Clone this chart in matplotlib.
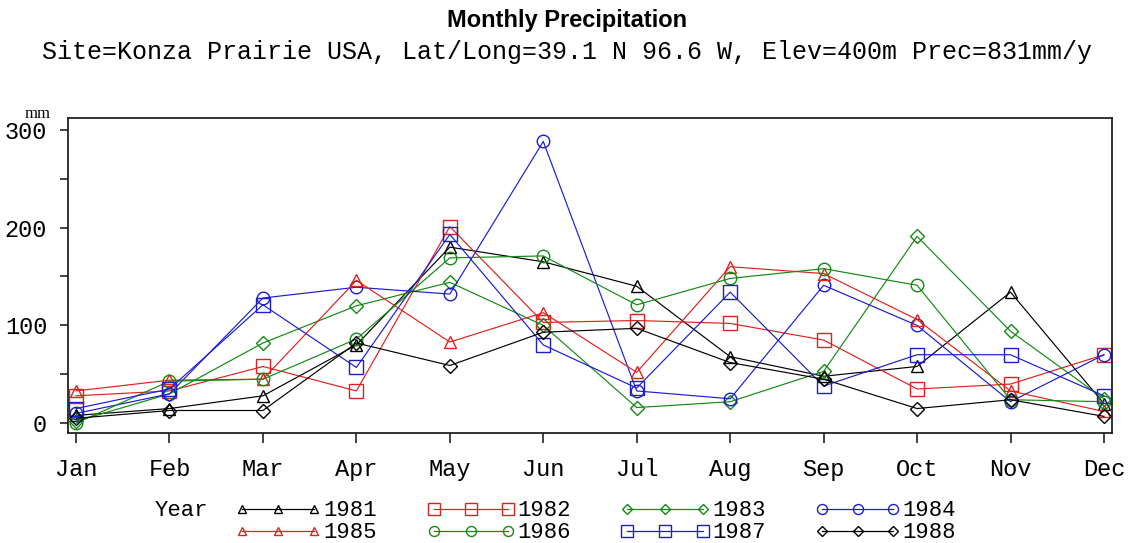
import matplotlib
matplotlib.use("Agg")
import matplotlib.pyplot as plt
from matplotlib.ticker import MultipleLocator

months = ["Jan", "Feb", "Mar", "Apr", "May", "Jun", "Jul", "Aug", "Sep", "Oct", "Nov", "Dec"]
years = ["1981", "1982", "1983", "1984", "1985", "1986", "1987", "1988"]

p1981 = [8, 15, 28, 80, 180, 165, 140, 68, 48, 58, 134, 20]
p1982 = [28, 33, 58, 33, 201, 103, 105, 102, 85, 35, 40, 70]
p1983 = [2, 30, 82, 120, 144, 100, 16, 22, 53, 191, 94, 25]
p1984 = [10, 30, 128, 139, 132, 288, 33, 25, 141, 100, 22, 70]
p1985 = [33, 44, 45, 146, 83, 113, 52, 160, 153, 106, 33, 12]
p1986 = [0, 43, 45, 86, 169, 171, 121, 148, 158, 141, 24, 22]
p1987 = [15, 35, 121, 57, 193, 80, 36, 134, 38, 70, 70, 28]
p1988 = [5, 13, 13, 82, 59, 93, 97, 62, 45, 15, 24, 7]
series = [p1981, p1982, p1983, p1984, p1985, p1986, p1987, p1988]

BLACK = "#000000"
RED = "#e02020"
GREEN = "#138a13"
BLUE = "#1c1cd0"
styles = [
    (BLACK, "^", 8),
    (RED, "s", 10),
    (GREEN, "D", 7),
    (BLUE, "o", 9),
    (RED, "^", 8),
    (GREEN, "o", 9),
    (BLUE, "s", 10),
    (BLACK, "D", 7),
]

MONO = ["Liberation Mono", "DejaVu Sans Mono"]

fig = plt.figure(figsize=(11.29, 5.43), dpi=100)
W, H = 1129, 543
ax = fig.add_axes([68 / W, 1 - 433 / H, (1112 - 68) / W, (433 - 118) / H])

x = list(range(len(months)))
for vals, (c, m, ms) in zip(series, styles):
    ax.plot(x, vals, color=c, marker=m, markersize=ms, markerfacecolor="none",
            markeredgecolor=c, markeredgewidth=1.0, linewidth=0.85)

ax.set_xlim(-0.086, 11.086)
ax.set_ylim(-10, 312)
ax.set_xticks(x)
ax.set_xticklabels(months, fontfamily=MONO, fontsize=17)
ax.yaxis.set_major_locator(MultipleLocator(100))
ax.yaxis.set_minor_locator(MultipleLocator(50))
for lab in ax.get_yticklabels():
    lab.set_fontfamily(MONO)
    lab.set_fontsize(17)
ax.tick_params(axis="both", which="both", direction="out", width=1.2, color="#222222")
ax.tick_params(axis="x", which="major", length=7, pad=11)
ax.tick_params(axis="y", which="major", length=6, pad=9)
ax.tick_params(axis="y", which="minor", length=6)
for s in ax.spines.values():
    s.set_linewidth(1.3)
    s.set_color("#222222")

fig.text(38 / W, 1 - 114 / H, "mm", fontfamily=["Liberation Serif", "DejaVu Serif"],
         fontsize=12, ha="center", va="center")

fig.text(567 / W, 1 - 21 / H, "Monthly Precipitation",
         fontfamily=["Liberation Sans", "DejaVu Sans"], fontweight="bold",
         fontsize=17, ha="center", va="center")
fig.text(567 / W, 1 - 52 / H,
         "Site=Konza Prairie USA, Lat/Long=39.1 N 96.6 W, Elev=400m Prec=831mm/y",
         fontfamily=MONO, fontsize=18, ha="center", va="center")

# legend drawn in pixel coordinates of an overlay axes
lax = fig.add_axes([0, 0, 1, 1], facecolor="none")
lax.set_xlim(0, W)
lax.set_ylim(H, 0)
lax.axis("off")
lax.text(181, 511, "Year", fontfamily=MONO, fontsize=16, ha="center", va="center")
col_x = [(242, 314), (434, 508), (627, 703), (822, 893)]
row_y = [509, 531]
for i, (yr, (c, m, ms)) in enumerate(zip(years, styles)):
    r, ci = divmod(i, 4)
    x0, x1 = col_x[ci]
    yy = row_y[r]
    lax.plot([x0, (x0 + x1) / 2, x1], [yy, yy, yy], color=c, marker=m,
             markersize=ms * 0.8, markerfacecolor="none", markeredgecolor=c,
             markeredgewidth=1.0, linewidth=0.9)
    lax.text(x1 + 9, yy + 1, yr, fontfamily=MONO, fontsize=16, ha="left", va="center")

fig.savefig("out.png", dpi=100)
